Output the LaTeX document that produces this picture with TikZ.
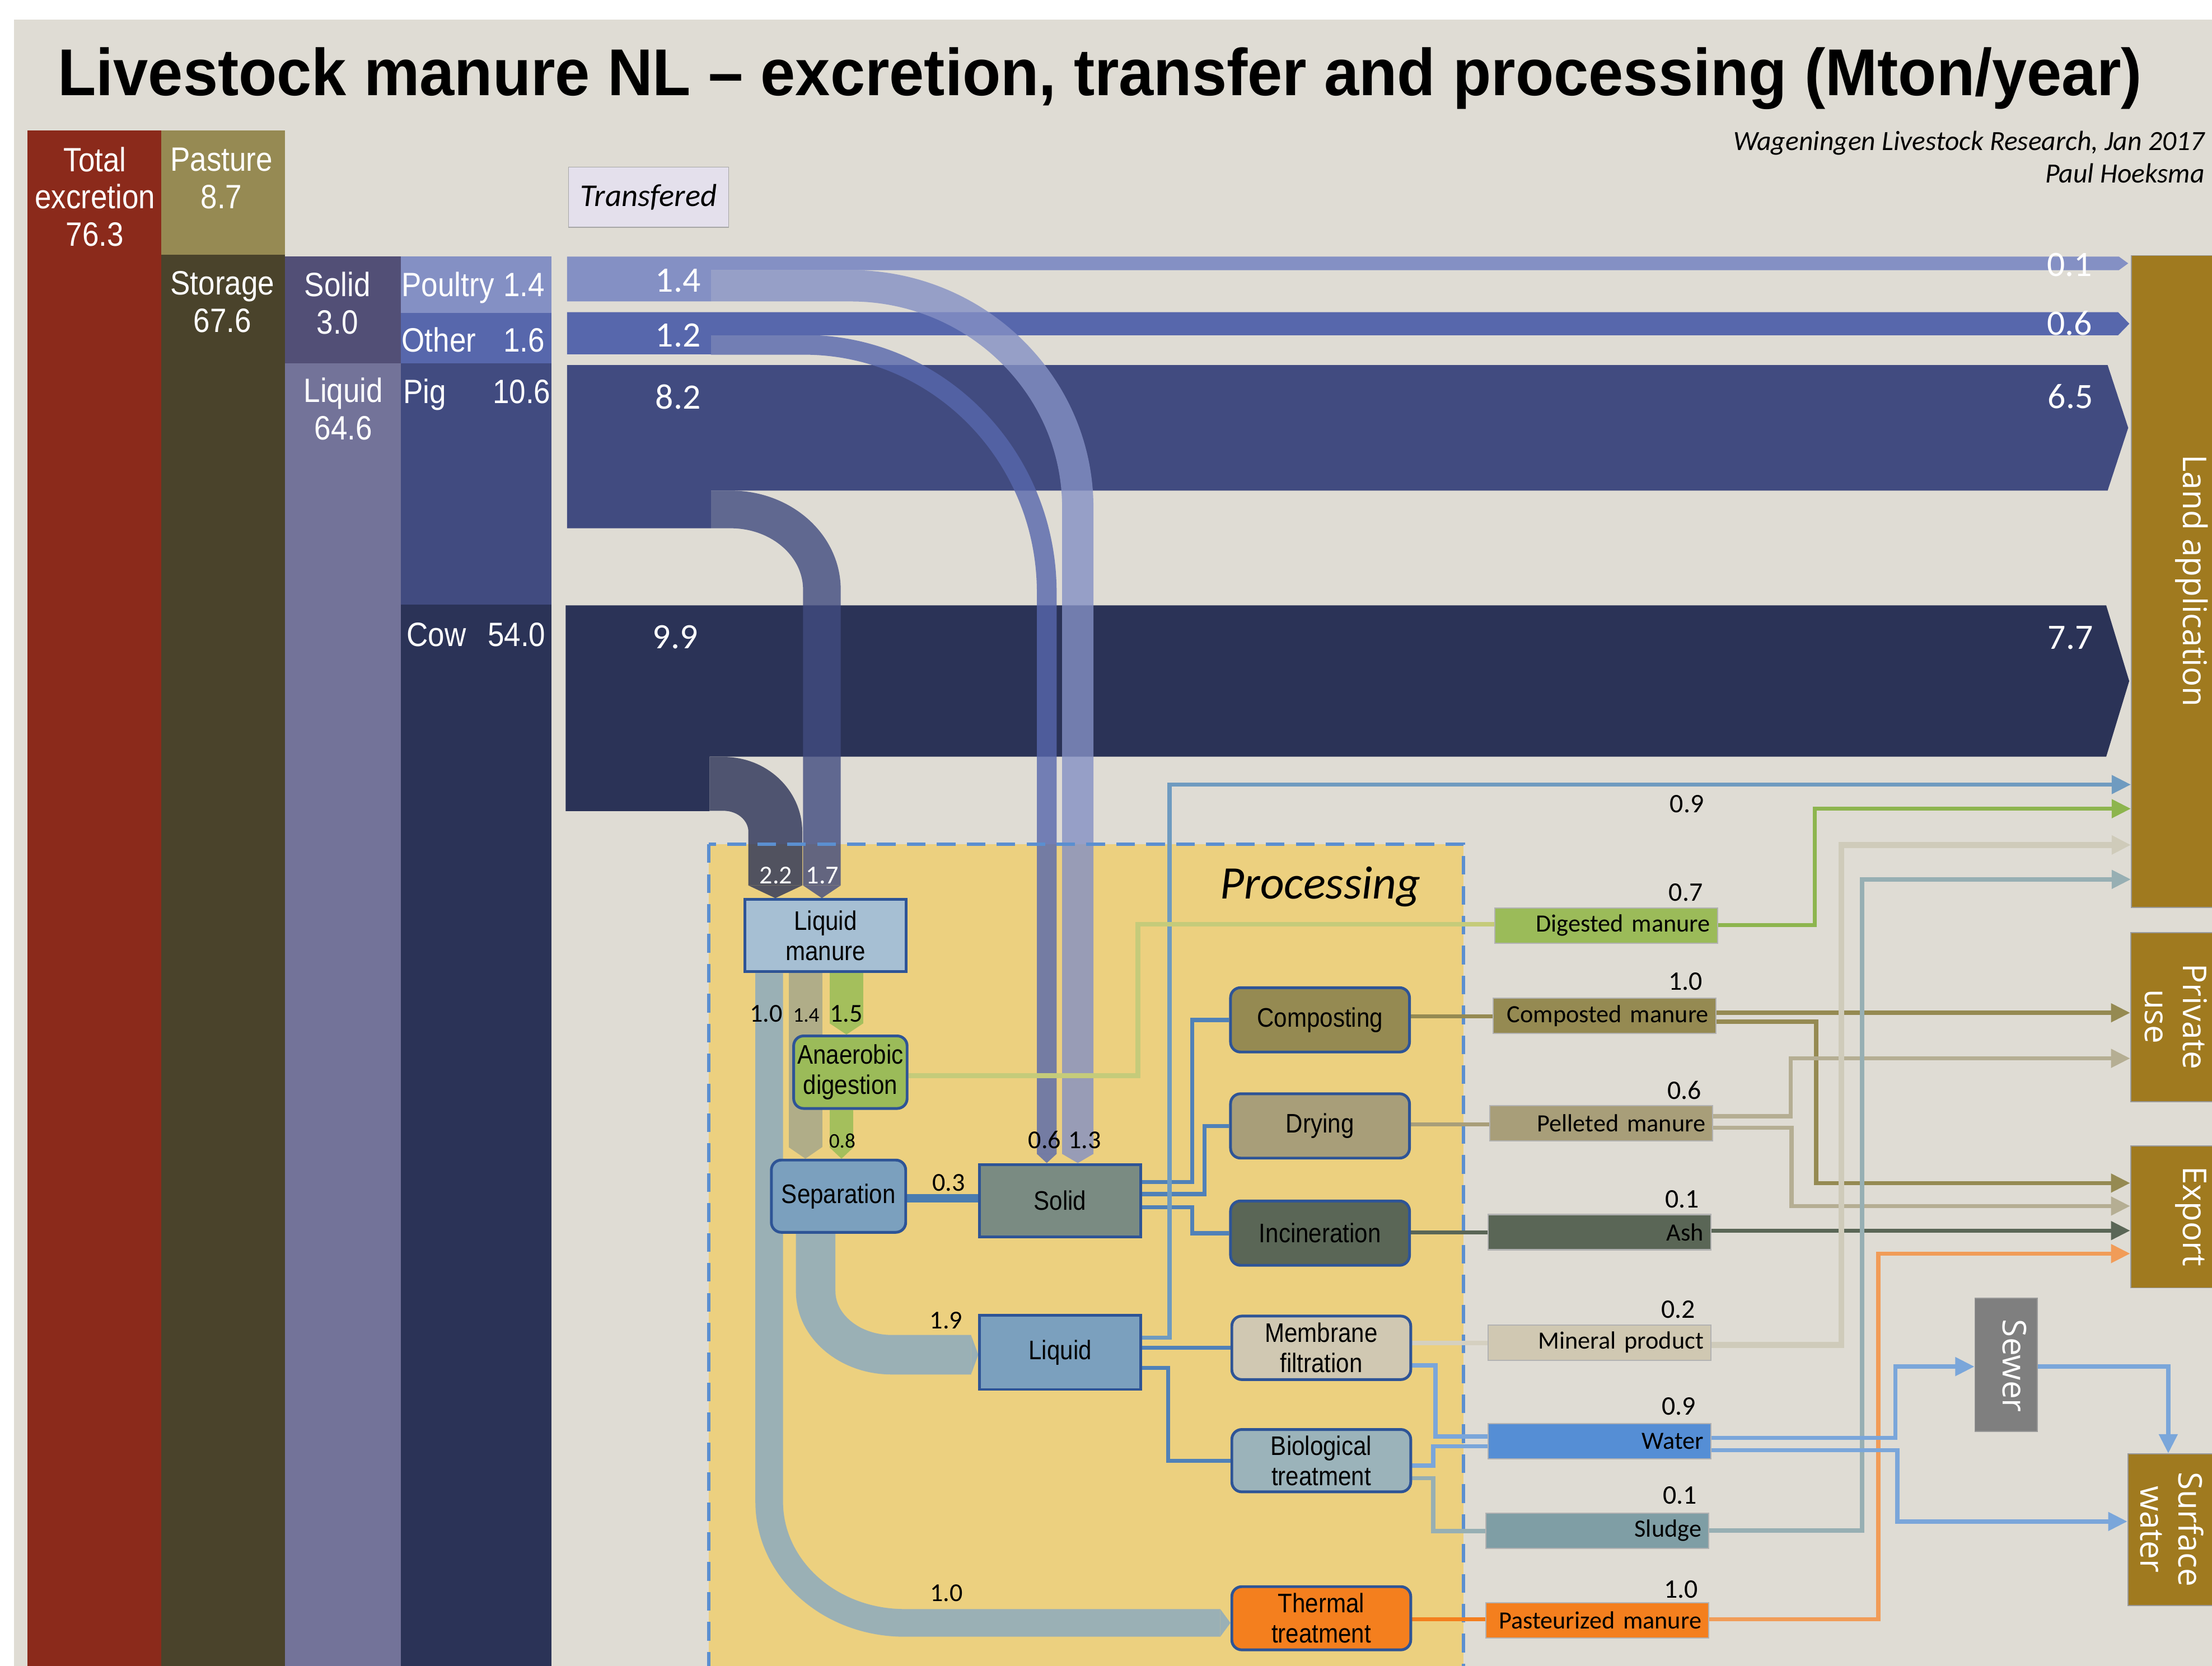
\documentclass[tikz,border=0pt]{standalone}
\usepackage{fontspec}
\setmainfont{Liberation Sans}
\newfontfamily\narrowfont[FakeStretch=0.88]{Liberation Sans}
\newfontfamily\titlefont[FakeStretch=0.945]{Liberation Sans}
\newfontfamily\califont{Carlito}
\newfontfamily\destfont{Open Sans}
\usetikzlibrary{arrows.meta,positioning}
\pgfdeclarelayer{back}
\pgfdeclarelayer{flows}
\pgfsetlayers{back,flows,main}

\definecolor{bggray}{HTML}{DFDCD4}
\definecolor{totred}{HTML}{8B2A1B}
\definecolor{pastc}{HTML}{968A53}
\definecolor{storc}{HTML}{4A432B}
\definecolor{solidc}{HTML}{524F76}
\definecolor{liquidc}{HTML}{737399}
\definecolor{poultc}{HTML}{8490C4}
\definecolor{otherc}{HTML}{5767AC}
\definecolor{pigc}{HTML}{414B80}
\definecolor{cowc}{HTML}{2B3357}
\definecolor{transc}{HTML}{E4E0EC}
\definecolor{procc}{HTML}{ECD07F}
\definecolor{dashc}{HTML}{5B8FD0}
\definecolor{boxline}{HTML}{2E5496}
\definecolor{lmanc}{HTML}{A6BFD3}
\definecolor{anaec}{HTML}{9BBB59}
\definecolor{sepac}{HTML}{7BA0BE}
\definecolor{soliboxc}{HTML}{7A8B82}
\definecolor{compc}{HTML}{958A52}
\definecolor{dryc}{HTML}{A89E79}
\definecolor{incic}{HTML}{5A6656}
\definecolor{membc}{HTML}{D0C8B2}
\definecolor{biolc}{HTML}{9BB3BA}
\definecolor{therc}{HTML}{F47F1E}
\definecolor{waterc}{HTML}{558ED5}
\definecolor{sludc}{HTML}{7F9EA5}
\definecolor{destc}{HTML}{A07A1F}
\definecolor{sewc}{HTML}{7F7F7F}
\definecolor{bandgrey}{HTML}{9AB0B5}
\definecolor{bandkhaki}{HTML}{B0AD88}
\definecolor{bandgreen}{HTML}{A4BF5C}
\definecolor{bandblue}{HTML}{4A7CB0}
\definecolor{procline}{HTML}{5081B8}
\definecolor{liqup}{HTML}{6F9BC0}
\definecolor{digline}{HTML}{C5CB7A}
\definecolor{greenline}{HTML}{8DB54E}
\definecolor{minin}{HTML}{D5D0C0}
\definecolor{minline}{HTML}{CFCBBA}
\definecolor{sludline}{HTML}{97AFB3}
\definecolor{pelline}{HTML}{B5AE93}
\definecolor{pasline}{HTML}{F19C58}
\definecolor{watline}{HTML}{7AA6DA}

\begin{document}
\begin{tikzpicture}[x=0.025cm, y=-0.025cm,
    coltext/.style={font=\narrowfont\fontsize{17}{18.9}\selectfont, text=white, inner sep=0pt, align=center},
    bandnum/.style={font=\califont\fontsize{18}{20}\selectfont, text=white, inner sep=0pt, anchor=base east},
    proc/.style={draw=boxline, line width=1.4pt, rounded corners=5pt, align=center, inner sep=0pt,
      font=\narrowfont\fontsize{13.5}{15.3}\selectfont},
    sharp/.style={rounded corners=0pt},
    outbox/.style={draw=gray!60, line width=0.6pt, inner xsep=0.13cm, inner ysep=0pt, text width=3.69cm,
      align=right, minimum height=0.625cm, font=\califont\fontsize{12.5}{14}\selectfont},
    outnum/.style={font=\califont\fontsize{13.5}{15}\selectfont, inner sep=0pt, anchor=base},
    procnum/.style={font=\califont\fontsize{13}{15}\selectfont, inner sep=0pt, anchor=base},
    smallnum/.style={font=\califont\fontsize{10.5}{12}\selectfont, inner sep=0pt, anchor=base},
    dest/.style={fill=destc, draw=gray!80, line width=0.5pt, inner sep=0pt, anchor=north west},
    desttext/.style={font=\destfont\fontsize{16.5}{19.3}\selectfont, text=white, rotate=-90, inner sep=0pt,
      anchor=base, align=center},
    flow/.style={line width=2.1pt},
    tip/.style={-{Triangle[length=0.34cm, width=0.32cm]}},
    bandtip/.style={-{Triangle[length=#1, width=0pt 1, line width=0pt]}},
  ]
  \useasboundingbox (0,0) rectangle (1568,1181);

  % background, columns and transfers to land
  \begin{pgfonlayer}{back}
    \fill[white] (0,0) rectangle (1568,1181);
    \fill[bggray] (10,14) rectangle (1568,1181);
    \fill[totred] (19.5,92.6) rectangle (114.4,1181);
    \fill[pastc] (114.4,92.6) rectangle (202,180.7);
    \fill[storc] (114.4,180.7) rectangle (202,1181);
    \fill[solidc] (202,181.7) rectangle (284,257.7);
    \fill[liquidc] (202,257.7) rectangle (284,1181);
    \fill[poultc] (284,181.7) rectangle (391,222);
    \fill[otherc] (284,222) rectangle (391,257.7);
    \fill[pigc] (284,257.7) rectangle (391,428.5);
    \fill[cowc] (284,428.5) rectangle (391,1181);
    \fill[poultc] (402,181.9) -- (1502,181.9) -- (1508.6,186.7) -- (1502,191.5) -- (504,191.5)
      -- (504,213.7) -- (402,213.7) -- cycle;
    \fill[otherc] (402,221.3) -- (1501.4,221.3) -- (1509.4,229.5) -- (1501.4,237.7) -- (504,237.7)
      -- (504,251.2) -- (402,251.2) -- cycle;
    \fill[pigc] (402,258.8) -- (1494,258.8) -- (1508.6,303.3) -- (1494,347.8) -- (504,347.8)
      -- (504,374.5) -- (402,374.5) -- cycle;
    \fill[cowc] (401,429.2) -- (1493,429.2) -- (1509.3,482.8) -- (1493,536.4) -- (503,536.4)
      -- (503,575) -- (401,575) -- cycle;
    \fill[procc] (502.4,598.5) rectangle (1037.4,1190);
  \end{pgfonlayer}

  \coordinate (poulout) at (504,202.6);
  \coordinate (othout) at (504,244.45);
  \coordinate (pigout) at (504,361.15);
  \coordinate (cowout) at (503,555.7);

  % titles
  \node[font=\titlefont\bfseries\fontsize{33.4}{36}\selectfont, anchor=base west, inner sep=0pt] (title)
    at (40.7,67.8) {Livestock manure NL – excretion, transfer and processing (Mton/year)};
  \node[font=\califont\itshape\fontsize{14}{16.2}\selectfont, anchor=base east, align=right, inner sep=0pt]
    (credit) at (1563,129.5) {Wageningen Livestock Research, Jan 2017\\Paul Hoeksma};
  \node[draw=gray!70, fill=transc, minimum width=2.84cm, minimum height=1.065cm, inner sep=0pt,
    font=\califont\itshape\fontsize{16}{18}\selectfont] (trans) at (459.8,139.8) {Transfered};
  \node[font=\califont\itshape\fontsize{23.5}{26}\selectfont, anchor=base, inner sep=0pt] (ptitle)
    at (936,637) {Processing};

  % column labels
  \node[coltext, anchor=base] (ttot) at (67.3,174.6) {Total\\excretion\\76.3};
  \node[coltext, anchor=base] (tpas) at (157,148) {Pasture\\8.7};
  \node[coltext, anchor=base] (tsto) at (157.7,235.4) {Storage\\67.6};
  \node[coltext, anchor=base] (tsol) at (239.2,236.7) {Solid\\3.0};
  \node[coltext, anchor=base] (tliq) at (243.4,311.8) {Liquid\\64.6};
  \node[coltext, anchor=base west] (tpou) at (284.5,210) {Poultry};
  \node[coltext, anchor=base east] (npou) at (386.5,210) {1.4};
  \node[coltext, anchor=base west] (toth) at (284.5,249.3) {Other};
  \node[coltext, anchor=base east] (noth) at (386.5,249.3) {1.6};
  \node[coltext, anchor=base west] (tpig) at (285.5,286) {Pig};
  \node[coltext, anchor=base east] (npig) at (390.5,286) {10.6};
  \node[coltext, anchor=base west] (tcow) at (288,458) {Cow};
  \node[coltext, anchor=base east] (ncow) at (387,458) {54.0};

  % band values
  \node[bandnum] (b14) at (497,207) {1.4};
  \node[bandnum] (b12) at (497,245.7) {1.2};
  \node[bandnum] (b82) at (497,290) {8.2};
  \node[bandnum] (b99) at (495,459.6) {9.9};
  \node[bandnum] (b01) at (1483.3,196) {0.1};
  \node[bandnum] (b06) at (1483.3,237.7) {0.6};
  \node[bandnum] (b65) at (1484,289.4) {6.5};
  \node[bandnum] (b77) at (1484,460) {7.7};

  % processing steps
  \node[proc, sharp, fill=lmanc, minimum width=2.86cm, minimum height=1.28cm] (lman) at (585.2,663.3) {Liquid\\manure};
  \node[proc, fill=anaec, minimum width=2.01cm, minimum height=1.285cm] (anae) at (602.8,760.1) {Anaerobic\\digestion};
  \node[proc, fill=sepac, minimum width=2.38cm, minimum height=1.28cm] (sepa) at (594.4,848) {Separation};
  \node[proc, sharp, fill=soliboxc, minimum width=2.85cm, minimum height=1.285cm] (soli) at (751.5,851.2) {Solid};
  \node[proc, sharp, fill=sepac, minimum width=2.85cm, minimum height=1.31cm] (liqu) at (751.5,958.8) {Liquid};
  \node[proc, fill=compc, minimum width=3.17cm, minimum height=1.14cm] (comp) at (935.7,723) {Composting};
  \node[proc, fill=dryc, minimum width=3.17cm, minimum height=1.14cm] (dryi) at (935.7,798.2) {Drying};
  \node[proc, fill=incic, minimum width=3.17cm, minimum height=1.14cm] (inci) at (935.7,874.2) {Incineration};
  \node[proc, fill=membc, minimum width=3.17cm, minimum height=1.125cm] (memb) at (936.6,955.5) {Membrane\\filtration};
  \node[proc, fill=biolc, minimum width=3.17cm, minimum height=1.105cm] (biol) at (936.6,1035.5) {Biological\\treatment};
  \node[proc, fill=therc, minimum width=3.17cm, minimum height=1.12cm] (ther) at (936.6,1147.2) {Thermal\\treatment};

  % processing values
  \node[procnum, text=white] (l22) at (550,626.3) {2.2};
  \node[procnum, text=white] (l17) at (583,626.3) {1.7};
  \node[procnum] (l10a) at (543,724.3) {1.0};
  \node[smallnum] (l14) at (571.5,724.3) {1.4};
  \node[procnum] (l15) at (599.8,724.3) {1.5};
  \node[smallnum] (l08) at (597,813.6) {0.8};
  \node[procnum] (l06) at (740.5,814) {0.6};
  \node[procnum] (l13) at (768.8,814) {1.3};
  \node[procnum] (l03) at (672.4,844.5) {0.3};
  \node[procnum] (l19) at (670.7,942.1) {1.9};
  \node[procnum] (l10b) at (671,1135.2) {1.0};

  % products
  \node[outbox, fill=anaec] (digm) at (1138.5,656.1) {Digested manure};
  \node[outbox, fill=compc] (cmpm) at (1137.4,720) {Composted manure};
  \node[outbox, fill=dryc] (pelm) at (1135.1,796.2) {Pelleted manure};
  \node[outbox, fill=incic] (ashm) at (1133.8,873.5) {Ash};
  \node[outbox, fill=membc] (minm) at (1133.8,951.7) {Mineral product};
  \node[outbox, fill=waterc] (watm) at (1133.8,1021.8) {Water};
  \node[outbox, fill=sludc] (slum) at (1132.3,1085.1) {Sludge};
  \node[outbox, fill=therc] (pasm) at (1132.3,1148.6) {Pasteurized manure};
  \node[outnum] (o09a) at (1195.8,576.2) {0.9};
  \node[outnum] (o07) at (1195,638.7) {0.7};
  \node[outnum] (o10a) at (1194.8,702) {1.0};
  \node[outnum] (o06) at (1194.1,779.4) {0.6};
  \node[outnum] (o01a) at (1192.4,856.4) {0.1};
  \node[outnum] (o02) at (1189.7,934.5) {0.2};
  \node[outnum] (o09b) at (1190,1003.2) {0.9};
  \node[outnum] (o01b) at (1190.7,1066) {0.1};
  \node[outnum] (o10b) at (1191.7,1132.8) {1.0};

  % destinations
  \node[dest, minimum width=1.45cm, minimum height=11.55cm] (land) at (1510.5,180.8) {};
  \node[dest, minimum width=1.45cm, minimum height=2.995cm] (priv) at (1510,660.9) {};
  \node[dest, minimum width=1.45cm, minimum height=2.515cm] (expo) at (1510,812) {};
  \node[dest, minimum width=1.5cm, minimum height=2.69cm] (surf) at (1508,1030.3) {};
  \node[dest, fill=sewc, minimum width=1.1025cm, minimum height=2.36cm] (sewe) at (1399.6,920) {};
  \node[desttext] (tland) at (1547.6,411.8) {Land application};
  \node[desttext] (tpriv) at (1520.5,720.8) {Private\\use};
  \node[desttext] (texpo) at (1547.6,862.3) {Export};
  \node[desttext] (tsurf) at (1517.2,1084.1) {Surface\\water};
  \node[desttext] (tsewe) at (1419.8,968.3) {Sewer};

  \begin{pgfonlayer}{flows}
    % transferred manure to processing
    \draw[poultc, opacity=0.8, line width=0.555cm, bandtip=0.1625cm] (poulout) -- (603,202.6)
      .. controls (691.9,202.6) and (764,273.1) .. (764,360) -- (764,0 |- soli.north);
    \draw[otherc, opacity=0.8, line width=0.35cm, bandtip=0.1625cm] (othout) -- (570,244.45)
      .. controls (665,244.45) and (742,323) .. (742,420) -- (742,0 |- soli.north);
    \draw[pigc, opacity=0.8, line width=0.6675cm, bandtip=0.225cm] (pigout) -- (518,361.15)
      .. controls (553.7,361.15) and (582.6,386.5) .. (582.6,418) -- (582.6,0 |- lman.north);
    \draw[cowc, opacity=0.8, line width=0.955cm, bandtip=0.225cm] (cowout) -- (513,555.7)
      .. controls (533.2,555.7) and (549.6,570.9) .. (549.6,589.7) -- (549.6,0 |- lman.north);
    \draw[dashc, line width=1.7pt, dash pattern=on 0.33cm off 0.2cm] (502.4,598.5) rectangle (1037.4,1190);

    % liquid manure streams
    \draw[bandgrey, line width=0.49cm, bandtip=0.18cm] (545.25,0 |- lman.south) -- (545.25,1064.5)
      .. controls (545.25,1112) and (588,1150.5) .. (641.25,1150.5) -- (ther.west |- 0,1150.5);
    \draw[bandkhaki, line width=0.595cm, bandtip=0.205cm] (570.9,0 |- lman.south) -- (570.9,0 |- sepa.north);
    \draw[bandgreen, line width=0.6cm, bandtip=0.2cm] (600,0 |- lman.south) -- (600,0 |- anae.north);
    \draw[bandgreen, line width=0.425cm, bandtip=0.2cm] (596.5,0 |- anae.south) -- (596.5,0 |- sepa.north);
    \draw[bandgrey, line width=0.7cm, bandtip=0.13cm] (578.2,0 |- sepa.south) -- (578.2,915.4)
      .. controls (578.2,940.3) and (602.4,960.4) .. (632.2,960.4) -- (liqu.west |- 0,960.4);
    \draw[bandblue, line width=0.14cm, line cap=round] (sepa.east |- 0,849.5) -- (soli.west |- 0,849.5);

    % fractions to treatments
    \draw[flow, procline] (soli.east |- 0,838) -- (845,838) |- (comp.west);
    \draw[flow, procline] (soli.east |- 0,846.5) -- (853.9,846.5) |- (dryi.west);
    \draw[flow, procline] (soli.east |- 0,855.9) -- (845,855.9) |- (inci.west);
    \draw[flow, liqup, tip] (liqu.east |- 0,948.2) -- (829,948.2) |- (land.west |- 0,556.2);
    \draw[flow, procline] (liqu.east |- memb.west) -- (memb.west);
    \draw[flow, procline] (liqu.east |- 0,969.8) -- (828,969.8) |- (biol.west);
    \draw[digline, line width=2.5pt] (anae.east |- 0,762.7) -- (806.7,762.7) |- (digm.west |- 0,655.2);

    % treatments to products
    \draw[flow, compc] (comp.east |- 0,720.5) -- (cmpm.west |- 0,720.5);
    \draw[flow, dryc] (dryi.east |- 0,797.2) -- (pelm.west |- 0,797.2);
    \draw[flow, incic] (inci.east |- 0,873.6) -- (ashm.west |- 0,873.6);
    \draw[flow, minin] (memb.east |- 0,952) -- (minm.west |- 0,952);
    \draw[flow, watline] (memb.east |- 0,967.9) -- (1017.5,967.9) |- (watm.west |- 0,1018.3);
    \draw[flow, watline] (biol.east |- 0,1039) -- (1016,1039) |- (watm.west |- 0,1025.2);
    \draw[flow, sludline] (biol.east |- 0,1047.8) -- (1016,1047.8) |- (slum.west |- 0,1085.5);
    \draw[flow, therc] (ther.east |- 0,1148) -- (pasm.west |- 0,1148);

    % products to destinations
    \draw[flow, greenline, tip] (digm.east |- 0,655.8) -- (1286.4,655.8) |- (land.west |- 0,573.3);
    \draw[flow, compc, tip] (cmpm.east |- 0,718) -- (priv.west |- 0,718);
    \draw[flow, compc, tip] (cmpm.east |- 0,724.3) -- (1287.4,724.3) |- (expo.west |- 0,838.7);
    \draw[flow, pelline, tip] (pelm.east |- 0,791.3) -- (1269.3,791.3) |- (priv.west |- 0,750.3);
    \draw[flow, pelline, tip] (pelm.east |- 0,799.5) -- (1270,799.5) |- (expo.west |- 0,855);
    \draw[flow, incic, tip] (ashm.east |- 0,872.4) -- (expo.west |- 0,872.4);
    \draw[flow, pasline, tip] (pasm.east |- 0,1148) -- (1331.5,1148) |- (expo.west |- 0,888.7);
    \draw[minline, line width=3pt, tip] (minm.east |- 0,953.5) -- (1305.2,953.5) |- (land.west |- 0,599);
    \draw[flow, sludline, tip] (slum.east |- 0,1085) -- (1320,1085) |- (land.west |- 0,623.4);
    \draw[flow, watline, tip] (watm.east |- 0,1019.3) -- (1343.5,1019.3) |- (sewe.west |- 0,968.8);
    \draw[flow, watline, tip] (watm.east |- 0,1028) -- (1345,1028) |- (surf.west |- 0,1078.6);
    \draw[flow, watline, tip] (sewe.east |- 0,968.8) -| (1537,0 |- surf.north);
  \end{pgfonlayer}
\end{tikzpicture}
\end{document}
